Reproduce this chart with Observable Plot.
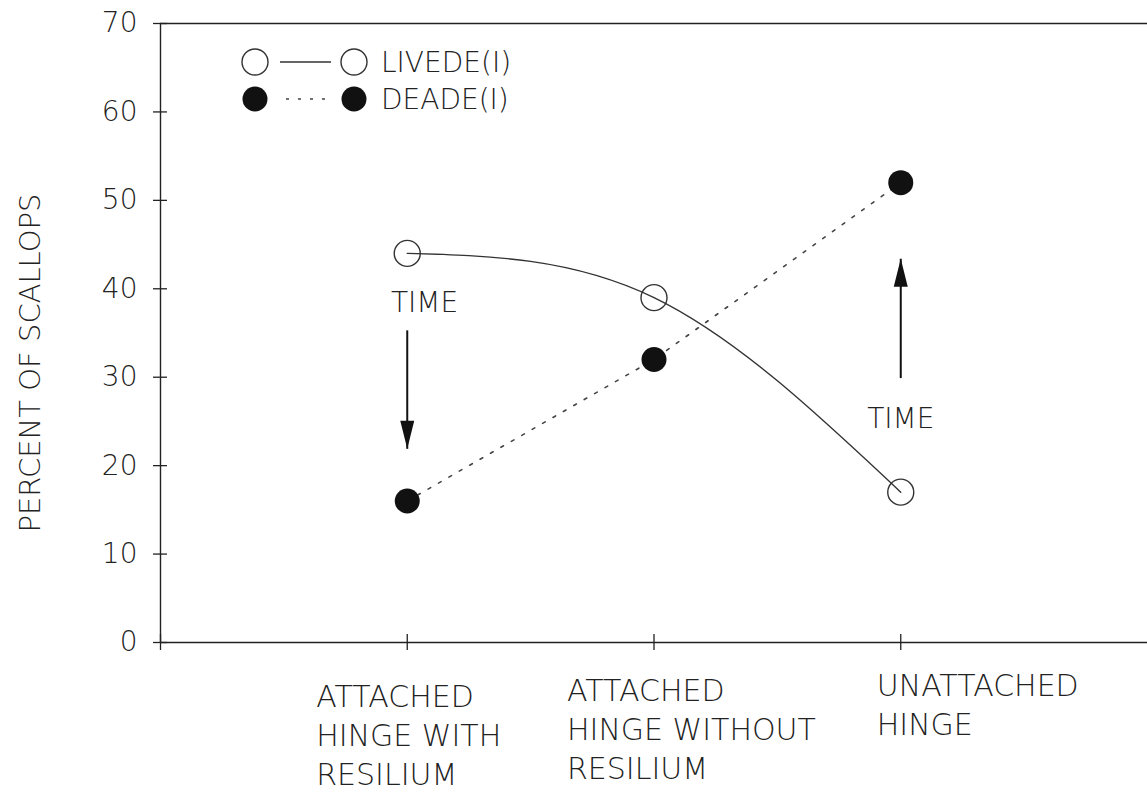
<!DOCTYPE html>
<html><head><meta charset="utf-8">
<script src="https://cdn.jsdelivr.net/npm/d3@7"></script>
<script src="https://cdn.jsdelivr.net/npm/@observablehq/plot@0.6"></script>
<style>
body{margin:0;background:#fff;}
#chart svg{font-family:"DejaVu Sans",sans-serif;font-weight:200;}
</style></head><body><div id="chart"></div>
<script>
const categories = ["ATTACHED\nHINGE WITH\nRESILIUM", "ATTACHED\nHINGE WITHOUT\nRESILIUM", "UNATTACHED\nHINGE"];
const livede = [44, 39, 17];
const deade = [16, 32, 52];
const yTicks = [0, 10, 20, 30, 40, 50, 60, 70];
const xTicks = [0, 1, 2, 3];
const seriesNames = ["LIVEDE(I)", "DEADE(I)"];
const yLabel = "PERCENT OF SCALLOPS";
const annotations = [
  {x: 1, labelX: 1.07, labelY: 38.4, from: 35.3, to: 21.9, dir: 180},
  {x: 3, labelX: 3.0, labelY: 25.3, from: 29.9, to: 43.4, dir: 0}
];

const liveData = livede.map((v, i) => ({x: i + 1, y: v}));
const deadData = deade.map((v, i) => ({x: i + 1, y: v}));

const arrowHead = {draw(ctx) { ctx.moveTo(0, 0); ctx.lineTo(-7, 28); ctx.lineTo(7, 28); ctx.closePath(); }};
const ink = "#222";

const labelMark = (i, dx, dy) => Plot.text([categories[i]], {
  x: () => i + 1, frameAnchor: "bottom", text: d => d, textAnchor: "start", lineAnchor: "top",
  dx, dy, fontSize: 30, lineHeight: 1.3, fill: ink
});

const plot = Plot.plot({
  width: 1147, height: 792,
  marginLeft: 160, marginRight: 0, marginTop: 23, marginBottom: 150,
  x: {domain: [0, 4]},
  y: {domain: [0, 70]},
  style: {fontSize: "28px", color: ink, background: "#fff"},
  marks: [
    Plot.ruleY([0, 70], {stroke: ink, strokeWidth: 1.6}),
    Plot.ruleX([0], {stroke: ink, strokeWidth: 1.4}),
    Plot.axisY(yTicks, {tickSize: 14, dx: 7, tickPadding: 16, label: null, stroke: ink, strokeWidth: 1.3, fill: ink, fontSize: 28}),
    Plot.axisX(xTicks, {tickSize: 16, dy: -8, fill: "none", label: null, stroke: ink, strokeWidth: 1.3}),
    labelMark(0, -91, 37),
    labelMark(1, -87, 31),
    labelMark(2, -24, 26),
    Plot.text([yLabel], {frameAnchor: "left", textAnchor: "middle", rotate: -90, dx: -130, dy: 30, text: d => d, fontSize: 29, fill: ink}),
    Plot.line(deadData, {x: "x", y: "y", stroke: "#444", strokeWidth: 1.6, strokeDasharray: "3,9"}),
    Plot.line(liveData, {x: "x", y: "y", curve: "natural", stroke: "#333", strokeWidth: 1.4}),
    Plot.dot(liveData, {x: "x", y: "y", r: 13, fill: "none", stroke: "#333", strokeWidth: 1.4}),
    Plot.dot(deadData, {x: "x", y: "y", r: 12.5, fill: "#111"}),
    Plot.link(annotations, {x1: "x", x2: "x", y1: "from", y2: "to", stroke: "#111", strokeWidth: 2}),
    Plot.dot(annotations, {x: "x", y: "to", symbol: arrowHead, rotate: "dir", fill: "#111", stroke: "none"}),
    Plot.text(annotations, {x: "labelX", y: "labelY", text: () => "TIME", fontSize: 28, fill: ink})
  ]
});
document.getElementById("chart").appendChild(plot);

// legend
const svg = d3.select(plot);
const lg = svg.append("g").attr("font-size", 28).attr("fill", ink).attr("text-anchor", "start");
const rows = [
  {name: seriesNames[0], y: 62, filled: false, dash: null, x1: 280, x2: 331},
  {name: seriesNames[1], y: 99, filled: true, dash: "3,9", x1: 286, x2: 330}
];
rows.forEach(r => {
  const g = lg.append("g");
  g.append("line").attr("x1", r.x1).attr("x2", r.x2).attr("y1", r.y).attr("y2", r.y)
    .attr("stroke", r.filled ? "#444" : "#333").attr("stroke-width", r.filled ? 1.6 : 1.4)
    .attr("stroke-dasharray", r.dash);
  [255, 354].forEach(cx => {
    g.append("circle").attr("cx", cx).attr("cy", r.y).attr("r", r.filled ? 12.5 : 13)
      .attr("fill", r.filled ? "#111" : "none").attr("stroke", r.filled ? "none" : "#333").attr("stroke-width", 1.4);
  });
  g.append("text").attr("x", 381).attr("y", r.y).attr("dy", "0.35em").attr("text-anchor", "start").text(r.name);
});
</script></body></html>
